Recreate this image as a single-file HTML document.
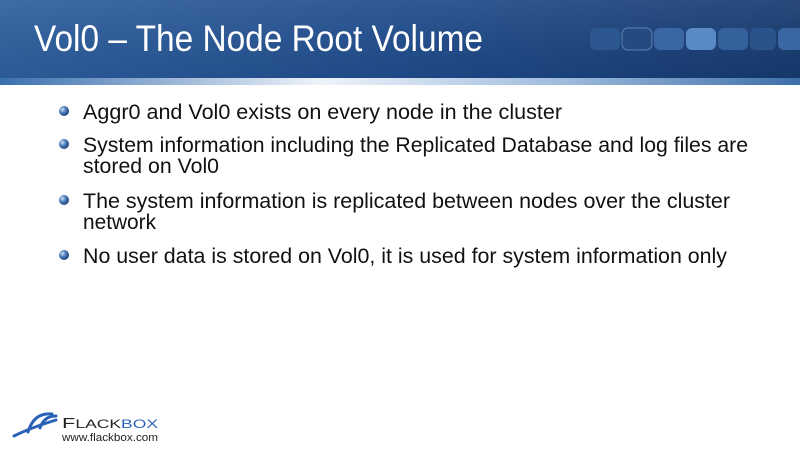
<!DOCTYPE html>
<html><head><meta charset="utf-8"><style>
body{margin:0;width:800px;height:450px;overflow:hidden;background:#fff;font-family:"Liberation Sans",sans-serif}
</style></head><body>
<svg width="800" height="450" xmlns="http://www.w3.org/2000/svg">
<defs>
<linearGradient id="hd" x1="0" y1="0" x2="1" y2="0">
<stop offset="0" stop-color="#2e5f9e"/><stop offset="0.5" stop-color="#1f4c8c"/><stop offset="1" stop-color="#16396f"/>
</linearGradient>
<linearGradient id="hv" x1="0" y1="0" x2="0" y2="1">
<stop offset="0" stop-color="#ffffff" stop-opacity="0.08"/><stop offset="1" stop-color="#000" stop-opacity="0.05"/>
</linearGradient>
<linearGradient id="st" x1="0" y1="0" x2="1" y2="0">
<stop offset="0" stop-color="#3a6fae"/><stop offset="0.4" stop-color="#eef3fa"/><stop offset="0.7" stop-color="#9fbcdd"/><stop offset="1" stop-color="#3d6ea8"/>
</linearGradient>
<radialGradient id="bl" cx="0.35" cy="0.35" r="0.7">
<stop offset="0" stop-color="#cfe0f4"/><stop offset="0.5" stop-color="#4a78b4"/><stop offset="1" stop-color="#1c3f73"/>
</radialGradient>
</defs>
<rect x="0" y="0" width="800" height="80" fill="url(#hd)"/>
<rect x="0" y="0" width="800" height="80" fill="url(#hv)"/>
<rect x="0" y="78" width="800" height="7" fill="url(#st)"/>
<text x="34" y="51" font-size="37" fill="#fff" textLength="449" lengthAdjust="spacingAndGlyphs">Vol0 – The Node Root Volume</text>
<g>
<rect x="590" y="28" width="30" height="22" rx="6" fill="#2d5791"/>
<rect x="622" y="28" width="30" height="22" rx="6" fill="#244a80" stroke="#5a82b8" stroke-width="1"/>
<rect x="654" y="28" width="30" height="22" rx="6" fill="#3a67a3"/>
<rect x="686" y="28" width="30" height="22" rx="6" fill="#5a8ac6"/>
<rect x="718" y="28" width="30" height="22" rx="6" fill="#34609c"/>
<rect x="750" y="28" width="26" height="22" rx="6" fill="#2a528b"/>
<rect x="778" y="28" width="26" height="22" rx="6" fill="#3a67a3"/>
</g>
<g fill="url(#bl)">
<circle cx="64" cy="111" r="5"/><circle cx="64" cy="144" r="5"/><circle cx="64" cy="200" r="5"/><circle cx="64" cy="255" r="5"/>
</g>
<g font-size="21" fill="#111">
<text x="83" y="119" textLength="479" lengthAdjust="spacingAndGlyphs">Aggr0 and Vol0 exists on every node in the cluster</text>
<text x="83" y="152" textLength="665" lengthAdjust="spacingAndGlyphs">System information including the Replicated Database and log files are</text>
<text x="83" y="173" textLength="136" lengthAdjust="spacingAndGlyphs">stored on Vol0</text>
<text x="83" y="208" textLength="647" lengthAdjust="spacingAndGlyphs">The system information is replicated between nodes over the cluster</text>
<text x="83" y="229" textLength="73" lengthAdjust="spacingAndGlyphs">network</text>
<text x="83" y="263" textLength="644" lengthAdjust="spacingAndGlyphs">No user data is stored on Vol0, it is used for system information only</text>
</g>
<g fill="none" stroke="#2a62b8" stroke-width="3" stroke-linecap="round">
<path d="M14 436 Q30 428 56 420"/>
<path d="M28 432 Q34 412 52 414"/>
<path d="M40 428 Q44 416 56 416"/>
</g>
<text x="62" y="428" font-size="15" fill="#222" textLength="96" lengthAdjust="spacingAndGlyphs">F<tspan font-size="12">LACK</tspan><tspan font-size="12" fill="#2a62b8">BOX</tspan></text>
<text x="62" y="441" font-size="11" fill="#222" textLength="96" lengthAdjust="spacingAndGlyphs">www.flackbox.com</text>
</svg>
</body></html>
